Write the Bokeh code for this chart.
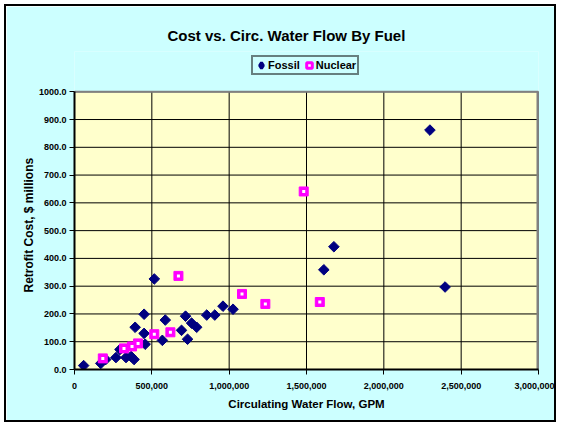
import math
from bokeh.plotting import figure
from bokeh.models import (Legend, LegendItem, NumeralTickFormatter, FixedTicker, Range1d, Title)
from bokeh.embed import file_html
from bokeh.resources import INLINE

# Data (x in GPM, y in $ millions)
fossil_flow = [59000, 170000, 202000, 268000, 294000, 333000, 366000, 385000, 392000,
               450000, 450000, 457000, 516000, 568000, 587000, 692000, 718000, 731000,
               757000, 790000, 855000, 907000, 960000, 1025000, 1612000, 1677000,
               2298000, 2396000]
fossil_cost = [14, 22, 36, 43, 72, 43, 47, 36, 152, 199, 130, 91, 326, 105, 178, 141,
               192, 109, 167, 152, 196, 196, 228, 217, 359, 442, 862, 297]
nuclear_flow = [183000, 320000, 372000, 411000, 516000, 620000, 672000, 1083000,
                1234000, 1482000, 1586000]
nuclear_cost = [40, 76, 83, 94, 127, 134, 337, 272, 236, 641, 243]

x_ticks = [0, 500000, 1000000, 1500000, 2000000, 2500000, 3000000]
y_ticks = [0, 100, 200, 300, 400, 500, 600, 700, 800, 900, 1000]

FONT = "Liberation Sans"
CYAN = "#CCFFFF"
PLOTBG = "#FFFFCC"

X_MAX = x_ticks[-1]
Y_MAX = y_ticks[-1]
# plot area is 276 px tall for 0..1000; frame extends 40 px higher to hold the legend
Y_TOP = Y_MAX * (276 + 40) / 276

p = figure(width=552, height=418, output_backend="svg", toolbar_location=None,
           x_range=Range1d(0, X_MAX), y_range=Range1d(0, Y_TOP),
           background_fill_color=CYAN, border_fill_color=CYAN,
           min_border_left=68, min_border_right=20, min_border_top=45, min_border_bottom=55,
           styles={"border": "2px solid black", "margin-left": "4px", "margin-top": "4px"})

p.title.text = "Cost vs. Circ. Water Flow By Fuel"
p.title.align = "left"
p.title.offset = 93
p.title.text_font = FONT
p.title.text_font_size = "15px"
p.title.text_font_style = "bold"
p.title.text_color = "black"
p.title.standoff = 16

p.outline_line_color = None
p.xgrid.grid_line_color = None
p.ygrid.grid_line_color = None

# plot area background
p.quad(left=[0], right=[X_MAX], bottom=[0], top=[Y_MAX], fill_color=PLOTBG, line_color=None)

# gridlines
nx = len(x_ticks) - 1
ny = len(y_ticks) - 1
p.segment(x0=x_ticks[1:], y0=[0] * nx, x1=x_ticks[1:], y1=[Y_MAX] * nx,
          line_color="black", line_width=1)
p.segment(x0=[0] * ny, y0=y_ticks[1:], x1=[X_MAX] * ny, y1=y_ticks[1:],
          line_color="black", line_width=1)

# gray plot-area border (top and right)
p.line(x=[0, X_MAX, X_MAX], y=[Y_MAX, Y_MAX, 0], line_color="#808080", line_width=2)
p.segment(x0=[X_MAX], y0=[0], x1=[X_MAX], y1=[Y_MAX], line_color="#808080", line_width=4)

for ax in (p.xaxis, p.yaxis):
    ax.axis_line_color = "black"
    ax.axis_line_width = 2
    ax.major_tick_line_color = "black"
    ax.major_tick_line_width = 1
    ax.major_tick_out = 5
    ax.major_tick_in = 0
    ax.minor_tick_line_color = None
    ax.major_label_text_font = FONT
    ax.major_label_text_font_size = "9px"
    ax.major_label_text_font_style = "bold"
    ax.major_label_text_color = "black"
    ax.axis_label_text_font = FONT
    ax.axis_label_text_font_size = "11.5px"
    ax.axis_label_text_font_style = "bold"
    ax.axis_label_text_color = "black"

p.yaxis.bounds = (0, Y_MAX)
p.xaxis.ticker = FixedTicker(ticks=x_ticks)
p.yaxis.ticker = FixedTicker(ticks=y_ticks)
p.xaxis.formatter = NumeralTickFormatter(format="0,0")
p.yaxis.formatter = NumeralTickFormatter(format="0.0")
p.xaxis.axis_label = "Circulating Water Flow, GPM"
p.xaxis.major_label_standoff = 8
p.xaxis.axis_label_standoff = 6
p.yaxis.major_label_standoff = 3

# y-axis title, placed along the 0..1000 plot area
ytitle = Title(text="Retrofit Cost, $ millions", align="left", offset=77,
               vertical_align="bottom", standoff=0,
               text_font=FONT, text_font_size="12px", text_font_style="bold",
               text_color="black")
p.add_layout(ytitle, "left")

rf = p.scatter(fossil_flow, fossil_cost, marker="square", angle=math.pi / 4, size=7.5,
               fill_color="#000080", line_color="#000080")
rn1 = p.scatter(nuclear_flow, nuclear_cost, marker="square", size=9,
                fill_color="#FF00FF", line_color="#FF00FF")
rn2 = p.scatter(nuclear_flow, nuclear_cost, marker="square", size=3,
                fill_color="white", line_color=None)

# legend swatches: hidden copies of the series, used only to draw the legend keys
lf = p.scatter(fossil_flow, fossil_cost, marker="diamond", fill_color="#000080",
               line_color="#000080", line_width=3, visible=False)
ln = p.scatter(nuclear_flow, nuclear_cost, marker="square", fill_color="white",
               line_color="#FF00FF", line_width=3, visible=False)

legend = Legend(items=[LegendItem(label="Fossil", renderers=[lf]),
                       LegendItem(label="Nuclear", renderers=[ln])],
                orientation="horizontal", location=(177, 294),
                border_line_color="black", border_line_width=2,
                background_fill_color=CYAN, background_fill_alpha=1,
                inactive_fill_alpha=0,
                label_text_font=FONT, label_text_font_size="11px",
                label_text_font_style="bold", label_text_color="black",
                glyph_width=14, glyph_height=14, label_standoff=0, spacing=2,
                padding=1, margin=0, label_height=14)
p.add_layout(legend, "center")

open("out.html", "w").write(file_html(p, INLINE))
